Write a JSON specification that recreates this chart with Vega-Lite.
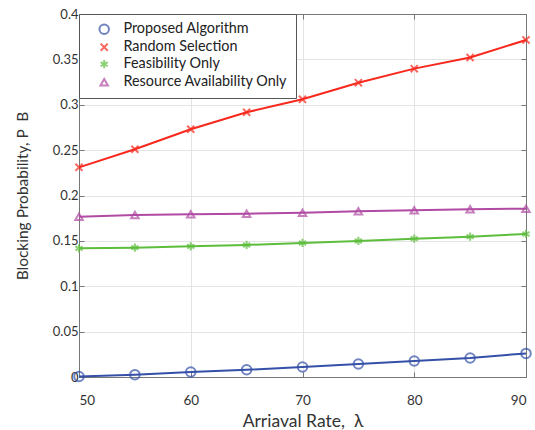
{
  "$schema": "https://vega.github.io/schema/vega-lite/v6.json",
  "autosize": "none",
  "width": 447,
  "height": 363,
  "padding": {"left": 79, "top": 14, "right": 9, "bottom": 53},
  "background": "white",
  "config": {
    "font": "Lato",
    "view": {"stroke": null},
    "axis": {
      "labelFont": "Lato", "titleFont": "Lato",
      "labelFontSize": 13.5, "titleFontWeight": "normal",
      "labelColor": "#333", "titleColor": "#333",
      "domainColor": "#777", "tickColor": "#777", "gridColor": "#e4e4e4",
      "tickSize": -5, "labelPadding": 6, "labelOverlap": false
    },
    "legend": {"labelFont": "Lato"}
  },
  "data": {"values": [
    {"rate": 50, "pb": 0.0005, "series": "Proposed Algorithm"},
    {"rate": 55, "pb": 0.0026, "series": "Proposed Algorithm"},
    {"rate": 60, "pb": 0.0055, "series": "Proposed Algorithm"},
    {"rate": 65, "pb": 0.008, "series": "Proposed Algorithm"},
    {"rate": 70, "pb": 0.011, "series": "Proposed Algorithm"},
    {"rate": 75, "pb": 0.0143, "series": "Proposed Algorithm"},
    {"rate": 80, "pb": 0.0176, "series": "Proposed Algorithm"},
    {"rate": 85, "pb": 0.021, "series": "Proposed Algorithm"},
    {"rate": 90, "pb": 0.026, "series": "Proposed Algorithm"},
    {"rate": 50, "pb": 0.231, "series": "Random Selection"},
    {"rate": 55, "pb": 0.251, "series": "Random Selection"},
    {"rate": 60, "pb": 0.273, "series": "Random Selection"},
    {"rate": 65, "pb": 0.2917, "series": "Random Selection"},
    {"rate": 70, "pb": 0.306, "series": "Random Selection"},
    {"rate": 75, "pb": 0.3243, "series": "Random Selection"},
    {"rate": 80, "pb": 0.3398, "series": "Random Selection"},
    {"rate": 85, "pb": 0.352, "series": "Random Selection"},
    {"rate": 90, "pb": 0.3714, "series": "Random Selection"},
    {"rate": 50, "pb": 0.1418, "series": "Feasibility Only"},
    {"rate": 55, "pb": 0.1425, "series": "Feasibility Only"},
    {"rate": 60, "pb": 0.144, "series": "Feasibility Only"},
    {"rate": 65, "pb": 0.1455, "series": "Feasibility Only"},
    {"rate": 70, "pb": 0.1477, "series": "Feasibility Only"},
    {"rate": 75, "pb": 0.1499, "series": "Feasibility Only"},
    {"rate": 80, "pb": 0.1524, "series": "Feasibility Only"},
    {"rate": 85, "pb": 0.1546, "series": "Feasibility Only"},
    {"rate": 90, "pb": 0.1576, "series": "Feasibility Only"},
    {"rate": 50, "pb": 0.1767, "series": "Resource Availability Only"},
    {"rate": 55, "pb": 0.1785, "series": "Resource Availability Only"},
    {"rate": 60, "pb": 0.1793, "series": "Resource Availability Only"},
    {"rate": 65, "pb": 0.18, "series": "Resource Availability Only"},
    {"rate": 70, "pb": 0.181, "series": "Resource Availability Only"},
    {"rate": 75, "pb": 0.1826, "series": "Resource Availability Only"},
    {"rate": 80, "pb": 0.1837, "series": "Resource Availability Only"},
    {"rate": 85, "pb": 0.1848, "series": "Resource Availability Only"},
    {"rate": 90, "pb": 0.1855, "series": "Resource Availability Only"}
  ]},
  "layer": [
    {
      "mark": {"type": "line", "strokeWidth": 2, "clip": false},
      "encoding": {
        "x": {"field": "rate", "type": "quantitative", "scale": {"domain": [50, 90], "nice": false},
          "axis": {"values": [50, 60, 70, 80, 90], "title": "Arriaval Rate,\u00a0\u00a0λ", "titleFontSize": 17.5, "titlePadding": 6, "labelPadding": 21, "grid": true}},
        "y": {"field": "pb", "type": "quantitative", "scale": {"domain": [0, 0.4], "nice": false},
          "axis": {"values": [0, 0.05, 0.1, 0.15, 0.2, 0.25, 0.3, 0.35, 0.4], "format": "~g", "title": "Blocking Probability, P\u00a0\u00a0B", "titleFontSize": 15.5, "titlePadding": 22, "labelFontSize": 13, "labelOverlap": false, "labelBound": false, "labelFlush": false, "grid": true}},
        "color": {"field": "series", "type": "nominal",
          "scale": {"domain": ["Proposed Algorithm", "Random Selection", "Feasibility Only", "Resource Availability Only"],
                    "range": ["#3450a8", "#f8281c", "#5dbd3c", "#b04aa3"]},
          "legend": {
            "orient": "top-left", "offset": 0, "title": null,
            "fillColor": "white", "strokeColor": "#555", "padding": 8,
            "labelFontSize": 14.4, "labelColor": "#222", "labelOffset": 12, "labelLimit": 400,
            "symbolStrokeWidth": 2, "rowPadding": 1, "symbolOffset": 10
          }},
        "detail": {"field": "series"}
      }
    },
    {
      "mark": {"type": "point", "filled": false, "strokeWidth": 2, "clip": false},
      "encoding": {
        "x": {"field": "rate", "type": "quantitative",
          "axis": {"orient": "top", "values": [50, 60, 70, 80, 90], "labels": false, "title": null, "grid": false}},
        "y": {"field": "pb", "type": "quantitative",
          "axis": {"orient": "right", "values": [0, 0.05, 0.1, 0.15, 0.2, 0.25, 0.3, 0.35, 0.4], "labels": false, "title": null, "grid": false}},
        "color": {"field": "series", "type": "nominal"},
        "shape": {"field": "series", "type": "nominal",
          "scale": {"domain": ["Proposed Algorithm", "Random Selection", "Feasibility Only", "Resource Availability Only"],
                    "range": ["circle", "M-0.8,-0.8L0.8,0.8M-0.8,0.8L0.8,-0.8", "M0,-1L0,1M-0.87,-0.5L0.87,0.5M-0.87,0.5L0.87,-0.5", "triangle-up"]},
          "legend": null},
        "size": {"field": "series", "type": "nominal",
          "scale": {"domain": ["Proposed Algorithm", "Random Selection", "Feasibility Only", "Resource Availability Only"],
                    "range": [90, 56, 72, 140]},
          "legend": null}
      }
    }
  ],
  "resolve": {"axis": {"x": "independent", "y": "independent"}}
}
